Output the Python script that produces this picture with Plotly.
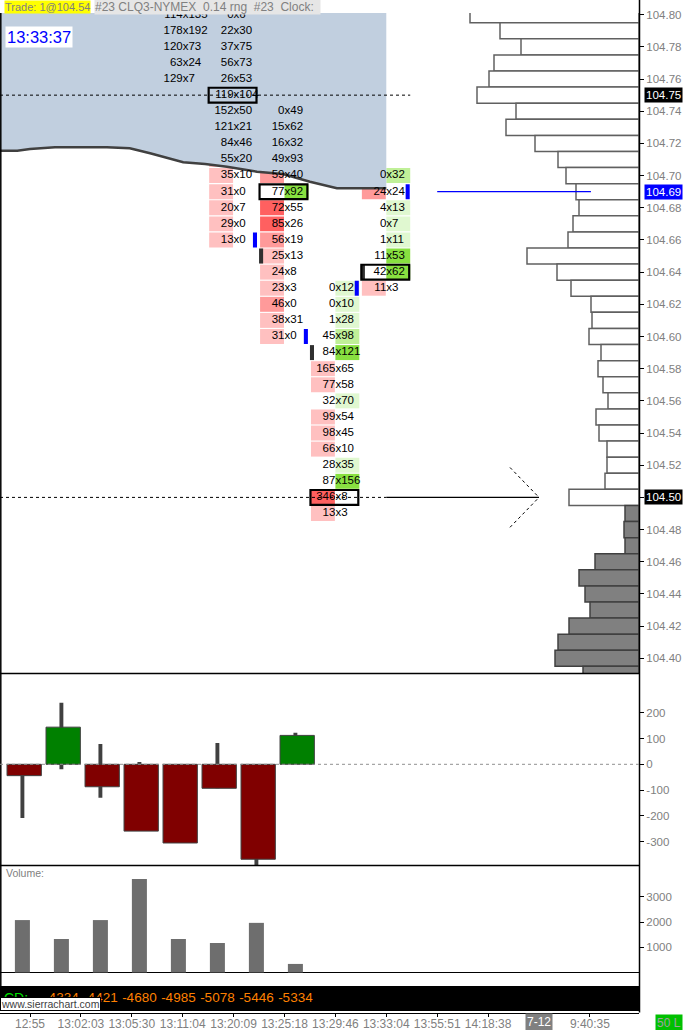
import plotly.graph_objects as go

# ---------------------------------------------------------------- data
time_labels = ["12:55", "13:02:03", "13:05:30", "13:11:04", "13:20:09", "13:25:18",
               "13:29:46", "13:33:04", "13:55:51", "14:18:38", "7-12", "9:40:35"]

# footprint columns (bid x ask per price level, top price first)
fp_col_index = [3, 4, 5, 6, 7]
fp_top_price = [104.80, 104.80, 104.74, 104.63, 104.70]
fp_bid = [
    [114, 178, 120, 63, 129],
    [0, 22, 37, 56, 26, 119, 152, 121, 84, 55, 35, 31, 20, 29, 13],
    [0, 15, 16, 49, 59, 77, 72, 85, 56, 25, 24, 23, 46, 38, 31],
    [0, 0, 1, 45, 84, 165, 77, 32, 99, 98, 66, 28, 87, 346, 13],
    [0, 24, 4, 0, 1, 11, 42, 11],
]
fp_ask = [
    [135, 192, 73, 24, 7],
    [6, 30, 75, 73, 53, 104, 50, 21, 46, 20, 10, 0, 7, 0, 0],
    [49, 62, 32, 93, 40, 92, 55, 26, 19, 13, 8, 3, 0, 31, 0],
    [12, 10, 28, 98, 121, 65, 58, 70, 54, 45, 10, 35, 156, 8, 3],
    [32, 24, 13, 7, 11, 53, 62, 3],
]
offscreen_max_bid = [270, 0, 0, 0, 0]      # largest bid in rows above the visible range (est.)
fp_poc = [None, 104.75, 104.69, 104.50, 104.64]
bar_open = [None, 104.75, 104.65, 104.59, 104.64]
bar_close = [104.76, 104.66, 104.60, 104.63, 104.69]

# band study line (x in bar units, price)
band_x = [-0.59, -0.25, 0.0, 0.49, 1.51, 1.96, 2.36, 3.01, 3.44, 3.87, 4.46, 4.97, 5.5, 6.03, 7.0]
band_y = [104.7155, 104.7155, 104.7165, 104.7176, 104.7176, 104.7170, 104.7139, 104.7083,
          104.7072, 104.7055, 104.7024, 104.7010, 104.6962, 104.6921, 104.6921]

# volume profile
profile_top = 104.80
profile_vol = [3380, 2780, 2360, 2900, 3000, 3240, 2460, 2660, 2080, 1620, 1460, 1260, 1200, 1320,
               1420, 2240, 1640, 1360, 960, 940, 1000, 760, 820, 720, 620, 860, 800, 640, 640, 680,
               1400, 280, 300, 280, 880, 1200, 1080, 980, 1400, 1620, 1680, 1120]

ref_price = 104.75
last_price = 104.69
arrow_price = 104.50

# lower panels
delta_high = [0, 239, 79, 9, 0, 83, 0, 122]
delta_low = [-208, -19, -130, -259, -305, -93, -396, 0]
delta_close = [-44, 144, -87, -259, -305, -93, -368, 112]
volume = [2080, 1330, 2080, 3710, 1330, 1170, 1970, 340]
cum_delta = [-4334, -4421, -4680, -4985, -5078, -5446, -5334]
cum_delta_bars = [1, 2, 3, 4, 5, 6, 7]

price_ticks = [104.40, 104.42, 104.44, 104.46, 104.48, 104.50, 104.52, 104.54, 104.56, 104.58,
               104.60, 104.62, 104.64, 104.66, 104.68, 104.70, 104.72, 104.74, 104.76, 104.78, 104.80]
delta_ticks = [-300, -200, -100, 0, 100, 200]
volume_ticks = [1000, 2000, 3000]

# ---------------------------------------------------------------- geometry / style
W, H = 683, 1030
PLOT_W = 639
TICK = 0.01


def pyf(pix):
    return 1 - pix / H


def pxf(pix):
    return pix / PLOT_W


FONT = "Liberation Sans, Arial, sans-serif"
GRAY = "#808080"
J0, JS = 30.0, 50.9       # main bars: first centre px, spacing
I0, IS = 22.4, 39.0       # lower panels
x_rng = [-J0 / JS, (PLOT_W - J0) / JS]
x2_rng = [-I0 / IS, (PLOT_W - I0) / IS]
PPX = 1609.0
y_rng = [104.80 - (673.5 - 14.7) / PPX, 104.80 + (14.7 - 13) / PPX]

BID_COL = ["#ffc0c0", "#ff9a9a", "#ff6060"]
ASK_COL = ["#e0f8d0", "#c0f098", "#88e040"]


def level(v, m):
    r = v / m
    return 2 if r >= 0.75 else (1 if r >= 0.5 else 0)


fig = go.Figure()

# band fill (to top of chart)
fig.add_trace(go.Scatter(x=band_x, y=[y_rng[1] + 0.02] * len(band_x), mode="lines",
                         line=dict(width=0), hoverinfo="skip", xaxis="x", yaxis="y"))
fig.add_trace(go.Scatter(x=band_x, y=band_y, mode="lines", fill="tonexty", fillcolor="#c1cfdf",
                         line=dict(color="#404040", width=2.5), hoverinfo="skip",
                         xaxis="x", yaxis="y"))

# footprint cells
cell_y, cell_base, cell_col = [], [], []
bx, by, bt, ax_, ay, at = [], [], [], [], [], []
for c, j in enumerate(fp_col_index):
    mb = max(max(fp_bid[c]), offscreen_max_bid[c])
    ma = max(fp_ask[c])
    for k, (b, a) in enumerate(zip(fp_bid[c], fp_ask[c])):
        p = round(fp_top_price[c] - TICK * k, 2)
        bx.append(j); by.append(p); bt.append(str(b))
        ax_.append(j); ay.append(p); at.append("x" + str(a))
        cell_y.append(p)
        if b >= a:
            cell_base.append(j - 0.48)
            cell_col.append(BID_COL[level(b, mb)])
        else:
            cell_base.append(j)
            cell_col.append(ASK_COL[level(a, ma)])

fig.add_trace(go.Bar(orientation="h", y=cell_y, x=[0.47] * len(cell_y), base=cell_base,
                     width=TICK * 0.93, marker=dict(color=cell_col, line=dict(width=0)),
                     hoverinfo="skip", xaxis="x", yaxis="y"))

# open / close markers
ox = [fp_col_index[c] - 0.50 for c in range(5) if bar_open[c] is not None]
oy = [bar_open[c] for c in range(5) if bar_open[c] is not None]
fig.add_trace(go.Bar(orientation="h", y=oy, x=[0.08] * len(oy), base=ox, width=TICK * 0.93,
                     marker=dict(color="#303030", line=dict(width=0)), hoverinfo="skip",
                     xaxis="x", yaxis="y"))
fig.add_trace(go.Bar(orientation="h", y=bar_close, x=[0.08] * 5,
                     base=[j + 0.38 for j in fp_col_index], width=TICK * 0.93,
                     marker=dict(color="#0000ff", line=dict(width=0)), hoverinfo="skip",
                     xaxis="x", yaxis="y"))

cell_font = dict(family=FONT, size=11.5, color="black")
fig.add_trace(go.Scatter(x=bx, y=by, text=bt, mode="text", textposition="middle left",
                         textfont=cell_font, hoverinfo="skip", xaxis="x", yaxis="y"))
fig.add_trace(go.Scatter(x=ax_, y=ay, text=at, mode="text", textposition="middle right",
                         textfont=cell_font, hoverinfo="skip", xaxis="x", yaxis="y"))

# volume profile
prof_prices = [round(profile_top - TICK * k, 2) for k in range(len(profile_vol))]
fig.add_trace(go.Bar(orientation="h", y=prof_prices, x=profile_vol, base=0, width=TICK,
                     marker=dict(color=["white" if p >= arrow_price else "#808080" for p in prof_prices],
                                 line=dict(color=["#606060" if p >= arrow_price else "#404040"
                                                  for p in prof_prices], width=1.5)),
                     hoverinfo="skip", xaxis="x3", yaxis="y"))

# delta candles
n = len(delta_close)
fig.add_trace(go.Bar(x=list(range(n)), y=[h - l for h, l in zip(delta_high, delta_low)],
                     base=delta_low, width=0.1, marker=dict(color="#404040", line=dict(width=0)),
                     hoverinfo="skip", xaxis="x2", yaxis="y2"))
fig.add_trace(go.Bar(x=list(range(n)), y=delta_close, base=0, width=0.88, offset=-0.44 + 0.046,
                     marker=dict(color=["#008000" if v > 0 else "#800000" for v in delta_close],
                                 line=dict(color="#404040", width=1)),
                     hoverinfo="skip", xaxis="x2", yaxis="y2"))

# volume
fig.add_trace(go.Bar(x=list(range(n)), y=volume, width=0.385,
                     marker=dict(color="#6e6e6e", line=dict(width=0)),
                     hoverinfo="skip", xaxis="x2", yaxis="y3"))

# cumulative delta strip
fig.add_trace(go.Scatter(x=cum_delta_bars, y=[0.5] * len(cum_delta), text=[str(v) for v in cum_delta],
                         mode="text", textposition="middle center",
                         textfont=dict(family=FONT, size=13.5, color="#ff8000"),
                         hoverinfo="skip", xaxis="x2", yaxis="y4"))

# ---------------------------------------------------------------- shapes
shapes = []
# black CD strip
shapes.append(dict(type="rect", xref="paper", yref="paper", x0=0, x1=pxf(640), y0=pyf(1011),
                   y1=pyf(986), fillcolor="black", line=dict(width=0), layer="below"))
# panel borders
for yy in (673.5, 865.5):
    shapes.append(dict(type="line", xref="paper", yref="paper", x0=0, x1=pxf(640), y0=pyf(yy),
                       y1=pyf(yy), line=dict(color="black", width=1.5)))
shapes.append(dict(type="line", xref="paper", yref="paper", x0=pxf(0.8), x1=pxf(0.8), y0=pyf(986),
                   y1=pyf(13), line=dict(color="black", width=1.5)))
shapes.append(dict(type="line", xref="paper", yref="paper", x0=pxf(639.5), x1=pxf(639.5),
                   y0=pyf(1012.5), y1=1, line=dict(color="black", width=1.5)))
# POC boxes
for c, p in enumerate(fp_poc):
    if p is None:
        continue
    j = fp_col_index[c]
    shapes.append(dict(type="rect", xref="x", yref="y", x0=j - 0.49, x1=j + 0.45,
                       y0=p - 0.0046, y1=p + 0.0046, line=dict(color="black", width=2.2)))
# reference dotted line
last_j = fp_col_index[-1]
shapes.append(dict(type="line", xref="x", yref="y", x0=x_rng[0], x1=last_j + 0.47, y0=ref_price,
                   y1=ref_price, line=dict(color="black", width=1, dash="dot")))
# arrow line at arrow_price
arrow_j = last_j + 3
shapes.append(dict(type="line", xref="x", yref="y", x0=x_rng[0], x1=last_j, y0=arrow_price,
                   y1=arrow_price, line=dict(color="black", width=1, dash="dot")))
shapes.append(dict(type="line", xref="x", yref="y", x0=last_j, x1=arrow_j, y0=arrow_price,
                   y1=arrow_price, line=dict(color="black", width=1.2)))
for s in (1, -1):
    shapes.append(dict(type="line", xref="x", yref="y", x0=arrow_j - 0.57, x1=arrow_j,
                       y0=arrow_price + s * 0.0186, y1=arrow_price,
                       line=dict(color="black", width=1, dash="dot")))
# last price line
shapes.append(dict(type="line", xref="x", yref="y", x0=last_j + 1, x1=last_j + 4.02, y0=last_price,
                   y1=last_price, line=dict(color="#0000ff", width=1.2)))
# delta zero line
shapes.append(dict(type="line", xref="paper", yref="y2", x0=0, x1=pxf(639), y0=0, y1=0,
                   line=dict(color="#909090", width=1, dash="dot")))

# ---------------------------------------------------------------- annotations
ann = []
small = dict(family=FONT, size=11, color=GRAY)
ann.append(dict(text="Trade: 1@104.54", xref="paper", yref="paper", x=pxf(4), y=pyf(7),
                xanchor="left", yanchor="middle", showarrow=False, bgcolor="#ffff00",
                borderpad=0, font=small))
ann.append(dict(text="#23 CLQ3-NYMEX\u00a0\u00a00.14 rng\u00a0\u00a0#23\u00a0\u00a0Clock:\u00a0\u00a0",
                xref="paper", yref="paper", x=pxf(94), y=pyf(7), xanchor="left", yanchor="middle",
                showarrow=False, bgcolor="#e6e6e6", borderpad=0, font=dict(family=FONT, size=12, color=GRAY)))
ann.append(dict(text="13:33:37", xref="paper", yref="paper", x=pxf(5), y=pyf(37), xanchor="left",
                yanchor="middle", showarrow=False, bgcolor="white", borderpad=1,
                font=dict(family=FONT, size=16.5, color="#0000ff")))
for p, bg in ((ref_price, "black"), (last_price, "#0000ff"), (arrow_price, "black")):
    ann.append(dict(text=f"{p:.2f}", xref="paper", yref="y", x=pxf(644), y=p, xanchor="left",
                    yanchor="middle", showarrow=False, bgcolor=bg, borderpad=1,
                    font=dict(family=FONT, size=11.5, color="white")))
ann.append(dict(text="Volume:", xref="paper", yref="paper", x=pxf(4), y=pyf(873), xanchor="left",
                yanchor="middle", showarrow=False, font=dict(family=FONT, size=10.5, color=GRAY)))
ann.append(dict(text="CD:", xref="paper", yref="paper", x=pxf(2), y=pyf(998), xanchor="left",
                yanchor="middle", showarrow=False, font=dict(family=FONT, size=14, color="#00e000")))
ann.append(dict(text="www.sierrachart.com", xref="paper", yref="paper", x=0, y=pyf(1011),
                xanchor="left", yanchor="bottom", showarrow=False, bgcolor="white",
                bordercolor="black", borderwidth=1, borderpad=0,
                font=dict(family=FONT, size=10.5, color="#404040")))
ann.append(dict(text="7-12", xref="x", yref="paper", x=time_labels.index("7-12"), y=pyf(1021.5),
                xanchor="center", yanchor="middle", showarrow=False, bgcolor="#808080",
                borderpad=1, font=dict(family=FONT, size=12, color="white")))
ann.append(dict(text="50 L", xref="paper", yref="paper", x=pxf(655), y=pyf(1022.5), xanchor="left",
                yanchor="middle", showarrow=False, bgcolor="#00c000", borderpad=1,
                font=dict(family=FONT, size=12, color="#a0a0a0")))

ticktext_time = ["" if t == "7-12" else t for t in time_labels]
price_text = ["" if abs(p - arrow_price) < 1e-9 else f"{p:.2f}" for p in price_ticks]
delta_text = [str(v) for v in delta_ticks]
volume_text = [str(v) for v in volume_ticks]

axis_font = dict(family=FONT, size=11.5, color=GRAY)
common_y = dict(side="right", ticks="outside", ticklen=4, tickcolor="black", tickwidth=1,
                showgrid=False, showline=False, tickfont=axis_font, fixedrange=True,
                automargin=False)

fig.update_layout(
    width=W, height=H, margin=dict(l=0, r=W - PLOT_W, t=0, b=0, autoexpand=False),
    paper_bgcolor="white", plot_bgcolor="white", showlegend=False, barmode="overlay",
    font=dict(family=FONT),
    xaxis=dict(domain=[0, 1], range=x_rng, anchor="free", position=pyf(1012.5),
               tickvals=list(range(len(time_labels))), ticktext=ticktext_time, tickangle=0,
               ticks="outside", ticklen=3, tickcolor="black", showline=True, linecolor="black",
               linewidth=1, showgrid=False, zeroline=False, ticklabelstandoff=-3,
               tickfont=dict(family=FONT, size=12, color=GRAY), automargin=False),
    yaxis=dict(domain=[pyf(673.5), pyf(13)], range=y_rng, anchor="x", tickvals=price_ticks,
               ticktext=price_text, zeroline=False, **common_y),
    xaxis2=dict(domain=[0, 1], range=x2_rng, anchor="y2", visible=False),
    yaxis2=dict(domain=[pyf(865.5), pyf(674)], anchor="x2",
                range=[-(865.5 - 764.3) / 0.258, (764.3 - 674) / 0.258],
                tickvals=delta_ticks, ticktext=delta_text, zeroline=False, **common_y),
    yaxis3=dict(domain=[pyf(986), pyf(866)], anchor="x2",
                range=[-(986 - 972.5) / 0.0252, (972.5 - 866) / 0.0252],
                tickvals=volume_ticks, ticktext=volume_text, zeroline=True, zerolinecolor="black",
                zerolinewidth=1.2, **common_y),
    yaxis4=dict(domain=[pyf(1011), pyf(986)], anchor="x2", range=[0, 1], visible=False),
    xaxis3=dict(overlaying="x", anchor="y", range=[PLOT_W * 20, 0], visible=False),
    shapes=shapes, annotations=ann,
)

fig.write_html("out.html", config={"displayModeBar": False},
               post_script="document.body.style.margin='0px';document.body.style.overflow='hidden';")
